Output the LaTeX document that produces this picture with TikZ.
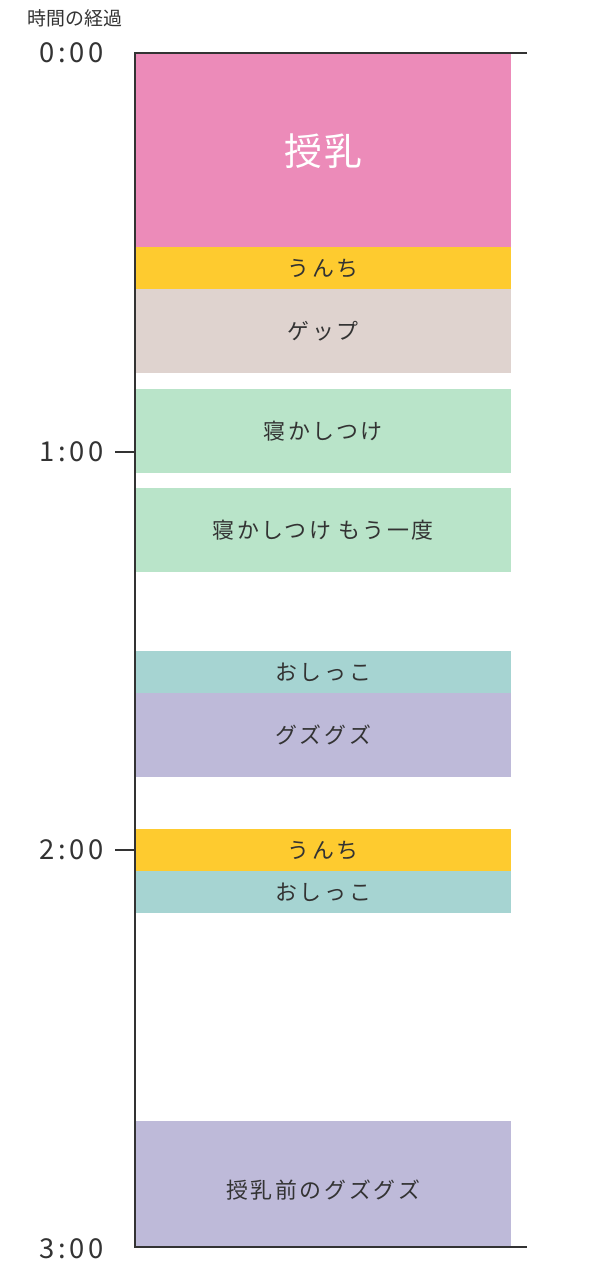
\documentclass[tikz,border=0pt]{standalone}
\usepackage{fontspec}
\newfontfamily\jp{Noto Sans CJK JP}
\definecolor{ink}{HTML}{333333}
\definecolor{cPink}{HTML}{EC8BB9}
\definecolor{cYellow}{HTML}{FECB2F}
\definecolor{cBeige}{HTML}{DFD3CF}
\definecolor{cGreen}{HTML}{B9E4C9}
\definecolor{cTeal}{HTML}{A6D4D2}
\definecolor{cLav}{HTML}{BEBAD9}
\tikzset{
  slot/.style={draw=none, inner sep=0pt, minimum width=376bp, anchor=north west,
    text=ink, font=\jp\fontsize{22}{26}\selectfont\addfontfeature{LetterSpace=12}},
  axisline/.style={draw=ink, line width=1.4bp},
  timelabel/.style={anchor=east, text=ink, inner sep=0pt,
    font=\jp\fontsize{27.5}{30}\selectfont\addfontfeature{LetterSpace=14}},
}
\newcommand{\slotbox}[5]{%
  \node[slot, fill=#4, minimum height={(#3-#2)*1bp}] (#1) at (135,#2) {#5};}
\begin{document}
\begin{tikzpicture}[x=1bp, y=-1bp]
\useasboundingbox (0,0) rectangle (600,1266);
% boxes
\slotbox{feed}{54}{247}{cPink}{}
\node[text=white, font=\jp\fontsize{38}{44}\selectfont\addfontfeature{LetterSpace=6}] (feedtxt) at (feed.center) {授乳};
\slotbox{poo1}{247}{289}{cYellow}{うんち}
\slotbox{burp}{289}{373}{cBeige}{ゲップ}
\slotbox{sleep1}{389}{473}{cGreen}{寝かしつけ}
\slotbox{sleep2}{488}{572}{cGreen}{寝かしつけ もう一度}
\slotbox{pee1}{651}{693}{cTeal}{おしっこ}
\slotbox{fuss1}{693}{777}{cLav}{グズグズ}
\slotbox{poo2}{829}{871}{cYellow}{うんち}
\slotbox{pee2}{871}{913}{cTeal}{おしっこ}
\slotbox{fuss2}{1121}{1247}{cLav}{}
\node[slot, anchor=center] (fuss2txt) at ([yshift=-6bp]fuss2.center) {授乳前のグズグズ};
% axis
\coordinate (a0) at (135,53);
\coordinate (a3) at (135,1247);
\coordinate (r0) at (527,53);
\coordinate (r3) at (527,1247);
\coordinate (t1) at (135,452);
\coordinate (t2) at (135,850);
\coordinate (t1l) at (115,452);
\coordinate (t2l) at (115,850);
\draw[axisline] (r0) -- (a0) -- (a3) -- (r3);
\draw[axisline] (t1l) -- (t1);
\draw[axisline] (t2l) -- (t2);
% labels
\node[text=ink, font=\jp\fontsize{19}{22}\selectfont] (title) at (75,18) {時間の経過};
\node[timelabel] (l0) at (104,53) {0:00};
\node[timelabel] (l1) at (104,452) {1:00};
\node[timelabel] (l2) at (104,850) {2:00};
\node[timelabel] (l3) at (104,1249) {3:00};
\end{tikzpicture}
\end{document}
